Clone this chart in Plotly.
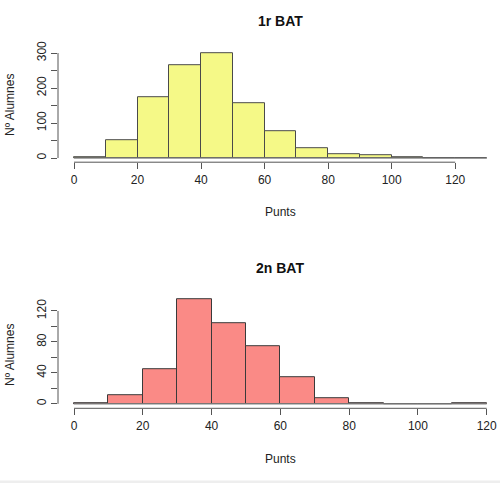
import plotly.graph_objects as go
from plotly.subplots import make_subplots

# histogram bins (left edges, width 10) and counts
bins_1r = [0, 10, 20, 30, 40, 50, 60, 70, 80, 90, 100, 110, 120]
counts_1r = [3, 50, 174, 265, 299, 157, 76, 28, 11, 8, 2, 0, 0]

bins_2n = [0, 10, 20, 30, 40, 50, 60, 70, 80, 90, 100, 110]
counts_2n = [1, 11, 45, 135, 104, 75, 34, 7, 1, 0, 0, 1]

xticks_1r = [0, 20, 40, 60, 80, 100, 120]
xticks_2n = [0, 20, 40, 60, 80, 100, 120]
yticks_1r = [0, 50, 100, 150, 200, 250, 300]
ylabels_1r = ["0", "", "100", "", "200", "", "300"]
yticks_2n = [0, 20, 40, 60, 80, 100, 120]
ylabels_2n = ["0", "", "40", "", "80", "", "120"]

W, H = 500, 483
FONT = "Liberation Sans, Arial, sans-serif"
AXC = "#555555"
X_LEFT = 58  # left edge of plot region in pixels


def py(p):
    # pixel row from top -> paper fraction
    return 1 - p / H


def px(p):
    return p / W


fig = make_subplots(rows=2, cols=1)

fig.add_trace(go.Bar(
    x=[b + 5 for b in bins_1r], y=counts_1r, width=10,
    marker=dict(color="#F5F987", line=dict(color="#4a4a4a", width=1)),
), row=1, col=1)

fig.add_trace(go.Bar(
    x=[b + 5 for b in bins_2n], y=counts_2n, width=10,
    marker=dict(color="#FA8A86", line=dict(color="#3a3a3a", width=1)),
), row=2, col=1)

fig.update_layout(
    width=W, height=H,
    margin=dict(l=0, r=0, t=0, b=0),
    plot_bgcolor="white", paper_bgcolor="white",
    showlegend=False, bargap=0,
    font=dict(family=FONT, size=12, color="#222222"),
)

# top panel: 0 at 74px, 130 at 487px
ppu1 = (487 - 74) / 130
fig.update_xaxes(range=[-(74 - X_LEFT) / ppu1, 130 + (500 - 487) / ppu1], row=1, col=1)
ppu2 = (486.7 - 74) / 120
fig.update_xaxes(range=[-(74 - X_LEFT) / ppu2, 120 + (500 - 486.7) / ppu2], row=2, col=1)

fig.update_xaxes(domain=[px(X_LEFT), 1], automargin=False,
                 showgrid=False, zeroline=False, showline=False,
                 ticks="outside", ticklen=6, tickcolor=AXC,
                 tickfont=dict(size=12, color="#222222"))
fig.update_xaxes(tickvals=xticks_1r, row=1, col=1)
fig.update_xaxes(tickvals=xticks_2n, row=2, col=1)

fig.update_yaxes(automargin=False, showgrid=False, zeroline=False, showline=False,
                 ticks="outside", ticklen=6, tickcolor=AXC, tickangle=-90,
                 tickfont=dict(size=12, color="#222222"))
fig.update_yaxes(range=[-12, 311], domain=[py(162.2), py(49.2)],
                 tickvals=yticks_1r, ticktext=ylabels_1r, row=1, col=1)
fig.update_yaxes(range=[-5.8, 140.4], domain=[py(408.3), py(295.2)],
                 tickvals=yticks_2n, ticktext=ylabels_2n, row=2, col=1)

# R-style axis lines spanning first to last tick
for xr, yr, xt, yt in [("x", "y", xticks_1r, yticks_1r),
                       ("x2", "y2", xticks_2n, yticks_2n)]:
    fig.add_shape(type="line", xref=xr, yref=yr + " domain",
                  x0=xt[0], x1=xt[-1], y0=0, y1=0,
                  line=dict(color=AXC, width=1))
    fig.add_shape(type="line", xref=xr + " domain", yref=yr,
                  x0=0, x1=0, y0=yt[0], y1=yt[-1],
                  line=dict(color=AXC, width=1))

# baseline under bars
fig.add_shape(type="line", xref="x", yref="y", x0=bins_1r[0], x1=bins_1r[-1] + 10,
              y0=0, y1=0, line=dict(color="#777777", width=1))
fig.add_shape(type="line", xref="x2", yref="y2", x0=bins_2n[0], x1=bins_2n[-1] + 10,
              y0=0, y1=0, line=dict(color="#888888", width=1))

for title, ty, lab_y, ax_y in [("1r BAT", 21, 212, 105), ("2n BAT", 268, 459, 355)]:
    fig.add_annotation(text="<b>" + title + "</b>", x=px(280), y=py(ty),
                       xref="paper", yref="paper", xanchor="center", yanchor="middle",
                       showarrow=False, font=dict(size=14, color="#111111"))
    fig.add_annotation(text="Punts", x=px(280), y=py(lab_y), xref="paper", yref="paper",
                       xanchor="center", yanchor="middle",
                       showarrow=False, font=dict(size=12, color="#222222"))
    fig.add_annotation(text="Nº Alumnes", x=px(10), y=py(ax_y), xref="paper", yref="paper",
                       xanchor="center", yanchor="middle",
                       showarrow=False, textangle=-90, font=dict(size=12, color="#222222"))

fig.add_shape(type="rect", xref="paper", yref="paper", x0=0, x1=1, y0=0, y1=py(480.5),
              fillcolor="#eeeeee", line=dict(width=0))

fig.write_html("out.html", config={"displayModeBar": False},
               post_script="document.body.style.margin='0';")
